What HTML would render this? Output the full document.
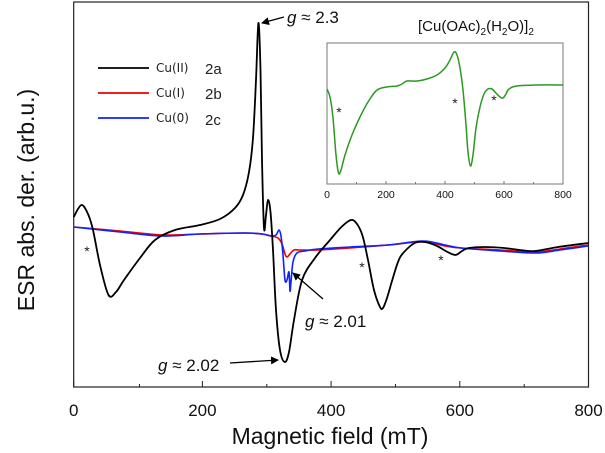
<!DOCTYPE html>
<html><head><meta charset="utf-8"><style>
html,body{margin:0;padding:0;background:#fff}
svg{display:block;font-family:"Liberation Sans",sans-serif}
</style></head><body>
<svg id="s" width="605" height="453" viewBox="0 0 605 453" xmlns="http://www.w3.org/2000/svg">
<defs><marker id="ah" markerWidth="8" markerHeight="8" refX="7" refY="4" orient="auto" markerUnits="userSpaceOnUse"><path d="M0,0 L8,4 L0,8 Z" fill="#000"/></marker></defs>
<rect x="73.7" y="2" width="514.8" height="385" fill="none" stroke="#222" stroke-width="1.2"/>
<g stroke="#222" stroke-width="1">
<line x1="73.7" y1="387" x2="73.7" y2="381"/><line x1="139.5" y1="387" x2="139.5" y2="384"/>
<line x1="202.4" y1="387" x2="202.4" y2="381"/><line x1="266.8" y1="387" x2="266.8" y2="384"/>
<line x1="331.1" y1="387" x2="331.1" y2="381"/><line x1="395.5" y1="387" x2="395.5" y2="384"/>
<line x1="459.8" y1="387" x2="459.8" y2="381"/><line x1="524.2" y1="387" x2="524.2" y2="384"/>
<line x1="588.5" y1="387" x2="588.5" y2="381"/>
</g>
<g font-size="17" text-anchor="middle" fill="#111">
<text x="73.7" y="416">0</text><text x="202.4" y="416">200</text><text x="331.1" y="416">400</text><text x="459.8" y="416">600</text><text x="588.5" y="416">800</text>
</g>
<text x="330" y="444" font-size="23" text-anchor="middle" fill="#111">Magnetic field (mT)</text>
<text transform="translate(34,200) rotate(-90)" font-size="23" text-anchor="middle" fill="#111">ESR abs. der. (arb.u.)</text>
<polyline class="sm" fill="none" stroke="#e00" stroke-width="1.6" points="73.7,227 120,231 163,235 200,234 244,233 262,234 271,236 278,238 282,244 285,254 287,257 290,254 294,250 300,250 318,250 350,248 388,245 423,242 445,246 461,248 500,250 535,252 560,249 588,245"/>
<polyline class="sm" fill="none" stroke="#1020ff" stroke-width="1.6" points="73.7,227 120,232 163,236 200,234 244,233 262,234 271,236 276,235 279,230 281,236 283,255 285,280 287,280 289,272 290,291 291,282 293,262 297,253 305,251 318,249 350,247 388,245 423,241 445,245 461,248 500,251 535,253 560,250 588,246"/>
<polyline class="sm" fill="none" stroke="#000" stroke-width="1.8" points="73.7,217 81.4,205 88,214 93,230 100,265 108.5,295 116,292 124,280 140,258 155,240 175,230 200,225 220,219 235,208 243,195 249,172 253,138 256,80 258.4,23 260.5,70 262,160 264,228 266,215 268,200 270.5,212 273,250 276,310 280,350 284.8,362 289,352 294,320 302.1,280 315,258 330,240 341.4,227 351,220 357,224 362.6,236 368,260 374,290 380,307 383,308 387,298 392,281 398,262 403.2,253 414.8,243 425,242 437,246 445.7,251 455.3,255 462,251 468.8,248 484.9,247 504.2,248 520,250 535,251 558.2,247 588.5,243"/>
<line x1="98" y1="68" x2="149" y2="68" stroke="#000" stroke-width="1.8"/>
<line x1="98" y1="93" x2="149" y2="93" stroke="#e00" stroke-width="1.8"/>
<line x1="98" y1="118" x2="149" y2="118" stroke="#1020ff" stroke-width="1.8"/>
<g font-family="'DejaVu Sans',sans-serif" font-size="12" fill="#222"><text x="156" y="72">Cu(II)</text><text x="156" y="97">Cu(I)</text><text x="156" y="122">Cu(0)</text></g>
<g font-size="15" fill="#222"><text x="205" y="74">2a</text><text x="205" y="99">2b</text><text x="205" y="125">2c</text></g>
<g font-size="17" fill="#111">
<text x="287" y="23"><tspan font-style="italic">g</tspan> ≈ 2.3</text>
<text x="305" y="327"><tspan font-style="italic">g</tspan> ≈ 2.01</text>
<text x="158" y="371"><tspan font-style="italic">g</tspan> ≈ 2.02</text>
</g>
<line x1="284" y1="17" x2="262" y2="23" stroke="#000" stroke-width="1.3" marker-end="url(#ah)"/>
<line x1="323" y1="299" x2="293" y2="273" stroke="#000" stroke-width="1.3" marker-end="url(#ah)"/>
<line x1="230" y1="363" x2="278" y2="360" stroke="#000" stroke-width="1.3" marker-end="url(#ah)"/>
<g font-size="14" fill="#222" text-anchor="middle"><text x="87" y="256">*</text><text x="362" y="272">*</text><text x="441" y="265">*</text>
<text x="339" y="117">*</text><text x="455" y="108">*</text><text x="494" y="105">*</text></g>
<text x="418" y="31" font-size="15" fill="#111">[Cu(OAc)<tspan font-size="10" dy="4">2</tspan><tspan dy="-4">(H</tspan><tspan font-size="10" dy="4">2</tspan><tspan dy="-4">O)]</tspan><tspan font-size="10" dy="4">2</tspan></text>
<rect x="327" y="43" width="236" height="141" fill="none" stroke="#777" stroke-width="1"/>
<g stroke="#777"><line x1="327" y1="184" x2="327" y2="181"/><line x1="356.5" y1="184" x2="356.5" y2="182"/><line x1="386" y1="184" x2="386" y2="181"/><line x1="415.5" y1="184" x2="415.5" y2="182"/><line x1="445" y1="184" x2="445" y2="181"/><line x1="474.5" y1="184" x2="474.5" y2="182"/><line x1="504" y1="184" x2="504" y2="181"/><line x1="533.5" y1="184" x2="533.5" y2="182"/><line x1="563" y1="184" x2="563" y2="181"/></g>
<g font-size="10.5" text-anchor="middle" fill="#111"><text x="327" y="198">0</text><text x="386" y="198">200</text><text x="445" y="198">400</text><text x="504" y="198">600</text><text x="563" y="198">800</text></g>
<polyline class="sm" fill="none" stroke="#2a9a20" stroke-width="1.5" points="327,89 330,97 333,118 336,155 338.5,173 341,170 345,155 352,135 360,117 368,102 377,90 387,87 397,86 402,84 407,81 417,81 427,79 437,75 445,68 450,60 454,52 457,55 460,68 463,90 466,125 468,152 470.5,166 473,155 476,128 480,107 484,94 488,89 492,89 495,92 500,97 503,98 506,94 509,89 517,86 540,85 563,85"/>
</svg>
<script>
document.querySelectorAll('polyline.sm').forEach(function(pl){
 var p=pl.getAttribute('points').trim().split(/\s+/).map(function(s){return s.split(',').map(Number);});
 var d='M'+p[0][0]+','+p[0][1];
 for(var i=0;i<p.length-1;i++){
  var p0=p[i-1]||p[i],p1=p[i],p2=p[i+1],p3=p[i+2]||p2;
  var c1x=p1[0]+(p2[0]-p0[0])/6,c1y=p1[1]+(p2[1]-p0[1])/6;
  var c2x=p2[0]-(p3[0]-p1[0])/6,c2y=p2[1]-(p3[1]-p1[1])/6;
  d+=' C'+c1x.toFixed(2)+','+c1y.toFixed(2)+' '+c2x.toFixed(2)+','+c2y.toFixed(2)+' '+p2[0]+','+p2[1];
 }
 var path=document.createElementNS('http://www.w3.org/2000/svg','path');
 path.setAttribute('d',d);
 ['fill','stroke','stroke-width'].forEach(function(a){path.setAttribute(a,pl.getAttribute(a));});
 path.setAttribute('stroke-linejoin','round');
 pl.parentNode.replaceChild(path,pl);
});
</script>
</body></html>
